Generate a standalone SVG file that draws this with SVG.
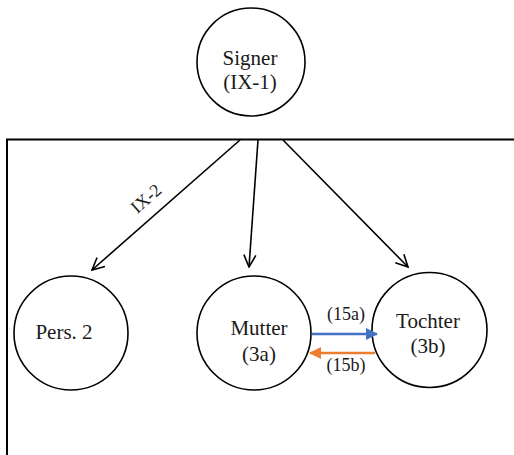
<svg xmlns="http://www.w3.org/2000/svg" width="514" height="455" viewBox="0 0 514 455">
<defs>
<style>
.node{fill:#fff;stroke:#000;stroke-width:1.6}
.lbl{font-family:"Liberation Serif","Times New Roman",serif;font-size:21px;fill:#1a1a1a;text-anchor:middle}
.sm{font-family:"Liberation Serif","Times New Roman",serif;font-size:18px;fill:#1a1a1a;text-anchor:middle}
.conn{stroke:#000;stroke-width:1.6;fill:none}
</style>
<marker id="open" viewBox="0 0 14 14" refX="13" refY="7" markerWidth="14" markerHeight="14" markerUnits="userSpaceOnUse" orient="auto">
<path d="M1,1 L13,7 L1,13" fill="none" stroke="#000" stroke-width="1.6"/>
</marker>
<marker id="blue" viewBox="0 0 12 12" refX="11" refY="6" markerWidth="12" markerHeight="12" markerUnits="userSpaceOnUse" orient="auto">
<path d="M0,0 L12,6 L0,12 Z" fill="#4472C4"/>
</marker>
<marker id="orange" viewBox="0 0 12 12" refX="11" refY="6" markerWidth="12" markerHeight="12" markerUnits="userSpaceOnUse" orient="auto">
<path d="M0,0 L12,6 L0,12 Z" fill="#ED7D31"/>
</marker>
</defs>
<g id="frame">
<path d="M6,139.5 H514 M7,139.5 V455" stroke="#000" stroke-width="2" fill="none"/>
</g>
<g id="signer">
<circle class="node" cx="251" cy="62" r="54"/>
<text class="lbl" x="250" y="65">Signer</text>
<text class="lbl" x="250" y="89">(IX-1)</text>
</g>
<g id="pers2">
<circle class="node" cx="71" cy="333" r="57"/>
<text class="lbl" x="64" y="339">Pers. 2</text>
</g>
<g id="mutter">
<circle class="node" cx="254" cy="333" r="57"/>
<text class="lbl" x="259" y="335">Mutter</text>
<text class="lbl" x="259" y="361">(3a)</text>
</g>
<g id="tochter">
<circle class="node" cx="429.5" cy="330" r="57.5"/>
<text class="lbl" x="428" y="328">Tochter</text>
<text class="lbl" x="428" y="353">(3b)</text>
</g>
<g id="connectors">
<line class="conn" x1="240" y1="140" x2="92" y2="270" marker-end="url(#open)"/>
<line class="conn" x1="258" y1="140" x2="249" y2="267" marker-end="url(#open)"/>
<line class="conn" x1="283" y1="140" x2="408" y2="267" marker-end="url(#open)"/>
<line x1="312" y1="334" x2="377" y2="334" stroke="#4472C4" stroke-width="2.6" marker-end="url(#blue)"/>
<line x1="375" y1="353" x2="310" y2="353" stroke="#ED7D31" stroke-width="2.6" marker-end="url(#orange)"/>
<text class="sm" transform="translate(150,203) rotate(-41.3)">IX-2</text>
<text class="sm" x="346" y="320">(15a)</text>
<text class="sm" x="346" y="371">(15b)</text>
</g>
</svg>
